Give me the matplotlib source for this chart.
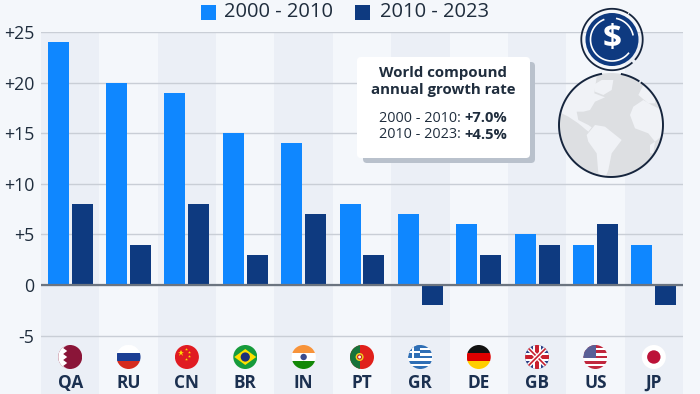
import matplotlib
matplotlib.use('Agg')
import matplotlib.pyplot as plt
import numpy as np
from matplotlib.patches import Circle, Rectangle, FancyBboxPatch, Polygon

plt.rcParams['font.family'] = ['Open Sans', 'DejaVu Sans']

countries = ['QA', 'RU', 'CN', 'BR', 'IN', 'PT', 'GR', 'DE', 'GB', 'US', 'JP']
growth_2000_2010 = [24, 20, 19, 15, 14, 8, 7, 6, 5, 4, 4]
growth_2010_2023 = [8, 4, 8, 3, 7, 3, -2, 3, 4, 6, -2]
yticks = [-5, 0, 5, 10, 15, 20, 25]
ytick_labels = ['-5', '0', '+5', '+10', '+15', '+20', '+25']
series_names = ['2000 - 2010', '2010 - 2023']

LIGHT = '#0f87ff'
DARK = '#0e3a80'
TEXT = '#1f2d3d'
BG = '#f4f7fb'
BAND = '#ebeff6'

W, H = 700, 394
LEFT, RIGHT, TOP = 41, 683, 32
PX_PER_UNIT = 10.12

fig = plt.figure(figsize=(7, 3.94), dpi=100, facecolor=BG)
ax = fig.add_axes([LEFT / W, 0, (RIGHT - LEFT) / W, (H - TOP) / H], facecolor='none')

x = np.arange(len(countries))
for i in x[::2]:
    ax.axvspan(i - 0.5, i + 0.5, color=BAND, lw=0, zorder=0)
ax.bar(x - 0.205, growth_2000_2010, 0.36, color=LIGHT, zorder=3)
ax.bar(x + 0.205, growth_2010_2023, 0.36, color=DARK, zorder=3)
ax.axhline(0, color='#6b7480', lw=1.6, zorder=4)

ax.set_xlim(-0.5, 10.5)
ax.set_ylim(25 - (H - TOP) / PX_PER_UNIT, 25)
ax.set_yticks(yticks)
ax.set_yticklabels(ytick_labels, fontsize=12.8, color=TEXT)
ax.tick_params(axis='y', length=0, pad=5)
ax.set_xticks([])
ax.grid(axis='y', color='#c9ced6', lw=1, zorder=1)
ax.set_axisbelow(True)
for s in ax.spines.values():
    s.set_visible(False)
for i, c in enumerate(countries):
    ax.text(i, -9.65, c, ha='center', va='center', fontsize=12.4,
            fontweight='bold', color='#1b3050')

# overlay in pixel coordinates for legend, callout, icons and flags
ov = fig.add_axes([0, 0, 1, 1], facecolor='none', zorder=5)
ov.set_xlim(0, W)
ov.set_ylim(H, 0)
ov.axis('off')


def ring(rx, ry, r, t1, t2, color, lw):
    # angles run clockwise on screen because y is inverted
    t = np.radians(np.linspace(t1, t2, 120))
    ov.plot(rx + r * np.cos(t), ry + r * np.sin(t), color=color, lw=lw)


# legend
for px, col, tx, name in zip([201, 355], [LIGHT, DARK], [224, 380], series_names):
    ov.add_patch(Rectangle((px, 5), 15, 15, color=col, lw=0))
    ov.text(tx, 12, name, fontsize=14.5, color=TEXT, va='center', ha='left')

# callout
ov.add_patch(FancyBboxPatch((363, 62), 172, 101, boxstyle='round,pad=0,rounding_size=4',
                            fc='#b9c1cc', ec='none'))
ov.add_patch(FancyBboxPatch((357, 57), 173, 101, boxstyle='round,pad=0,rounding_size=4',
                            fc='white', ec='none'))
ov.text(443, 73, 'World compound', fontsize=10.85, fontweight='bold', color=TEXT, ha='center', va='center')
ov.text(443, 90, 'annual growth rate', fontsize=10.85, fontweight='bold', color=TEXT, ha='center', va='center')
ov.text(379, 118, '2000 - 2010:', fontsize=10.4, color=TEXT, ha='left', va='center')
ov.text(379, 135, '2010 - 2023:', fontsize=10.4, color=TEXT, ha='left', va='center')
ov.text(507, 118, '+7.0%', fontsize=10.6, fontweight='bold', color=TEXT, ha='right', va='center')
ov.text(507, 135, '+4.5%', fontsize=10.6, fontweight='bold', color=TEXT, ha='right', va='center')

gx, gy, gr = 611, 125, 52
globe = Circle((gx, gy), gr, fc='#dddfe2', ec='none')
ov.add_patch(globe)
land = [
    [(115, 45), (140, 30), (175, 30), (170, 60), (145, 75), (120, 65)],
    [(10, 135), (30, 70), (90, 25), (125, 20), (118, 70), (150, 82), (120, 95), (105, 120), (85, 125),
     (65, 125), (70, 150), (100, 165), (110, 172), (100, 185), (70, 160), (40, 140), (20, 130)],
    [(95, 195), (120, 165), (150, 170), (200, 210), (170, 250), (160, 300), (150, 325), (130, 310),
     (125, 250), (100, 215)],
    [(225, 135), (235, 110), (265, 90), (290, 105), (330, 125), (330, 190), (300, 215), (280, 190), (240, 175)],
    [(250, 75), (265, 45), (300, 75), (300, 100), (280, 100)],
    [(285, 225), (300, 215), (295, 250), (285, 250)],
]
for pts in land:
    p = Polygon([(555 + a / 3, 70 + b / 3) for a, b in pts], closed=True, fc='#f0f2f6', ec='none')
    ov.add_patch(p)
    p.set_clip_path(globe)
for t1, t2 in [(282, 302), (306, 619)]:
    ring(gx, gy, gr, t1, t2, '#16253d', 1.4)

# coin
cx, cy = 612, 39.5
for t1, t2 in [(50, 300), (305, 400)]:
    ring(cx, cy, 30.7, t1, t2, '#16253d', 1.3)
ov.add_patch(Circle((cx, cy), 26.5, fc=DARK, ec='none'))
for t1, t2 in [(40, 247), (283, 347)]:
    ring(cx, cy, 21.5, t1, t2, 'white', 1.2)
ov.text(cx, cy, '$', fontsize=24, fontweight='bold', color='white', ha='center', va='center')


def stripes(clip, fx, fy, r, cols):
    n = len(cols)
    for k, col in enumerate(cols):
        s = Rectangle((fx - r, fy - r + 2 * r * k / n), 2 * r, 2 * r / n, fc=col, ec='none')
        ov.add_patch(s)
        s.set_clip_path(clip)


def clipped(patch, clip):
    ov.add_patch(patch)
    patch.set_clip_path(clip)


def draw_flag(code, fx, fy, r=12):
    clip = Circle((fx, fy), r, fc='white', ec='none')
    ov.add_patch(clip)
    if code == 'QA':
        clipped(Rectangle((fx - r, fy - r), 2 * r, 2 * r, fc='#8a1538', ec='none'), clip)
        pts = [(fx - r, fy - r)]
        for k in range(9):
            pts.append((fx - 3 if k % 2 == 0 else fx - 7, fy - r + k * 24 / 8))
        pts.append((fx - r, fy + r))
        clipped(Polygon(pts, fc='white', ec='none'), clip)
    elif code == 'RU':
        stripes(clip, fx, fy, r, ['white', '#1c3f94', '#d52b1e'])
    elif code == 'CN':
        clipped(Rectangle((fx - r, fy - r), 2 * r, 2 * r, fc='#e01b22', ec='none'), clip)
        ov.plot([fx - 6], [fy - 4], marker='*', ms=5, color='#ffde00', mew=0)
        ov.plot([fx - 1, fx + 2, fx + 2, fx - 1], [fy - 8, fy - 5, fy - 1, fy + 2], ls='none',
                marker='*', ms=2.2, color='#ffde00', mew=0)
    elif code == 'BR':
        clipped(Rectangle((fx - r, fy - r), 2 * r, 2 * r, fc='#169b3c', ec='none'), clip)
        clipped(Polygon([(fx - 11, fy), (fx, fy - 8), (fx + 11, fy), (fx, fy + 8)], fc='#fedf00', ec='none'), clip)
        ov.add_patch(Circle((fx, fy), 4.6, fc='#1d2f7a', ec='none'))
    elif code == 'IN':
        stripes(clip, fx, fy, r, ['#f7933a', 'white', '#128807'])
        ov.add_patch(Circle((fx, fy), 3.2, fc='#3a4a8c', ec='none'))
    elif code == 'PT':
        clipped(Rectangle((fx - r, fy - r), 2 * r, 2 * r, fc='#e0201b', ec='none'), clip)
        clipped(Rectangle((fx - r, fy - r), 9.6, 2 * r, fc='#17733a', ec='none'), clip)
        ov.add_patch(Circle((fx - 2.4, fy), 4, fc='#f2d21c', ec='none'))
        ov.add_patch(Circle((fx - 2.4, fy), 2, fc='white', ec='#c8202a', lw=0.8))
    elif code == 'GR':
        stripes(clip, fx, fy, r, ['#2f6fb5', 'white'] * 4 + ['#2f6fb5'])
        clipped(Rectangle((fx - r, fy - r), 12, 13.3, fc='#2f6fb5', ec='none'), clip)
        clipped(Rectangle((fx - 8.5, fy - r), 2.6, 13.3, fc='white', ec='none'), clip)
        clipped(Rectangle((fx - r, fy - 6.2), 12, 2.6, fc='white', ec='none'), clip)
    elif code == 'DE':
        stripes(clip, fx, fy, r, ['#111111', '#dd0000', '#ffce00'])
    elif code == 'GB':
        clipped(Rectangle((fx - r, fy - r), 2 * r, 2 * r, fc='#2b3f86', ec='none'), clip)
        for a, b in [((fx - r, fy - r), (fx + r, fy + r)), ((fx - r, fy + r), (fx + r, fy - r))]:
            ln, = ov.plot([a[0], b[0]], [a[1], b[1]], color='white', lw=3.2, solid_capstyle='butt')
            ln.set_clip_path(clip)
            ln, = ov.plot([a[0], b[0]], [a[1], b[1]], color='#c8202f', lw=1.2, solid_capstyle='butt')
            ln.set_clip_path(clip)
        clipped(Rectangle((fx - 4, fy - r), 8, 2 * r, fc='white', ec='none'), clip)
        clipped(Rectangle((fx - r, fy - 4), 2 * r, 8, fc='white', ec='none'), clip)
        clipped(Rectangle((fx - 2.4, fy - r), 4.8, 2 * r, fc='#c8202f', ec='none'), clip)
        clipped(Rectangle((fx - r, fy - 2.4), 2 * r, 4.8, fc='#c8202f', ec='none'), clip)
    elif code == 'US':
        stripes(clip, fx, fy, r, ['#c0273d', 'white'] * 4 + ['#c0273d'])
        clipped(Rectangle((fx - r, fy - r), 13, 13.3, fc='#5a5f96', ec='none'), clip)
    elif code == 'JP':
        ov.add_patch(Circle((fx, fy), 6.7, fc='#bc1238', ec='none'))


band_w = (RIGHT - LEFT) / len(countries)
for i, c in enumerate(countries):
    draw_flag(c, LEFT + band_w * (i + 0.5), 357)

ov.set_xlim(0, W)
ov.set_ylim(H, 0)
fig.savefig('out.png', dpi=100, facecolor=fig.get_facecolor())
